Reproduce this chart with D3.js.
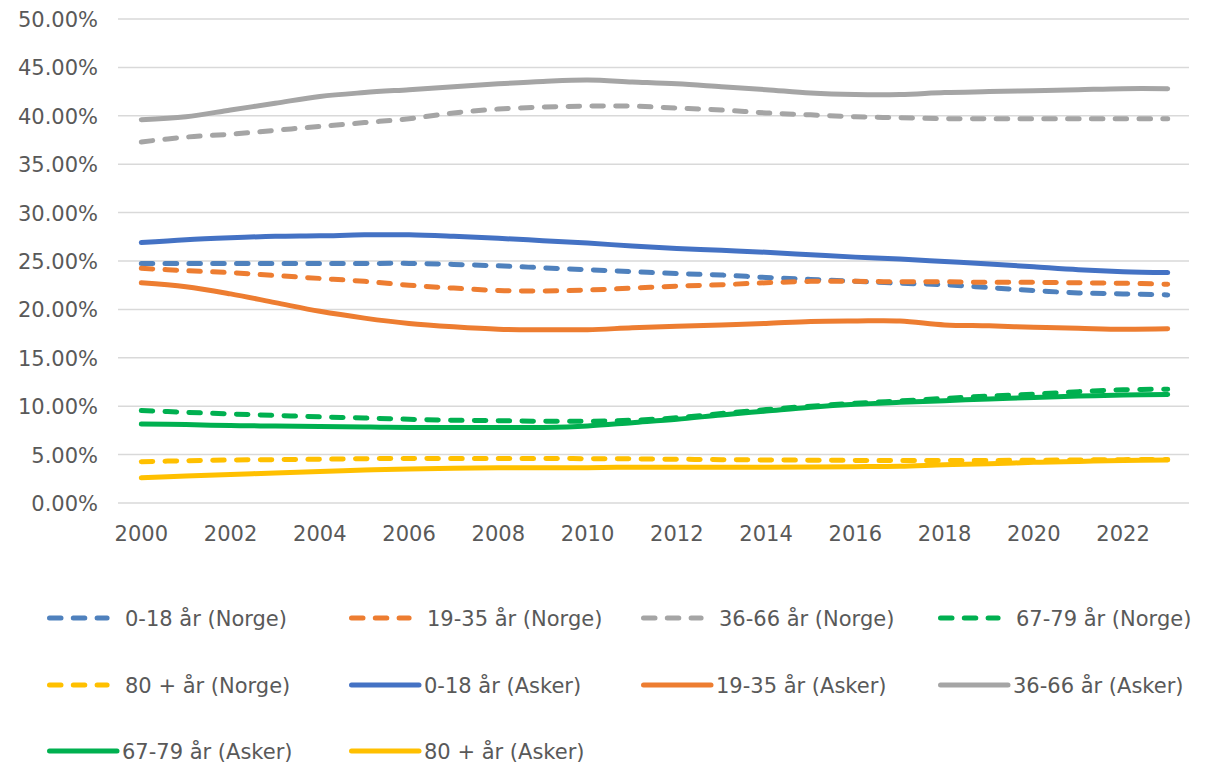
<!DOCTYPE html>
<html><head><meta charset="utf-8">
<script src="https://cdn.jsdelivr.net/npm/d3@7"></script>
<style>html,body{margin:0;padding:0;background:#fff;}svg{display:block;}</style>
</head><body>
<svg id="chart" width="1205" height="765"></svg>
<script>
const years = [2000,2001,2002,2003,2004,2005,2006,2007,2008,2009,2010,2011,2012,2013,2014,2015,2016,2017,2018,2019,2020,2021,2022,2023];
const yTicks = [0,5,10,15,20,25,30,35,40,45,50];

const norge0_18  = [24.75,24.75,24.75,24.75,24.75,24.75,24.75,24.65,24.5,24.3,24.1,23.9,23.7,23.55,23.3,23.1,22.9,22.7,22.55,22.25,21.95,21.7,21.6,21.5];
const norge19_35 = [24.25,24.0,23.8,23.5,23.2,22.9,22.5,22.2,21.95,21.9,22.0,22.2,22.4,22.55,22.75,22.9,22.9,22.85,22.85,22.8,22.8,22.75,22.7,22.6];
const norge36_66 = [37.3,37.8,38.1,38.5,38.9,39.3,39.7,40.3,40.7,40.9,41.0,41.0,40.8,40.6,40.3,40.1,39.9,39.8,39.7,39.7,39.7,39.7,39.7,39.7];
const norge67_79 = [9.55,9.37,9.2,9.05,8.9,8.78,8.65,8.55,8.5,8.45,8.45,8.55,8.8,9.25,9.65,10.0,10.3,10.55,10.8,11.05,11.25,11.5,11.7,11.75];
const norge80    = [4.27,4.37,4.44,4.48,4.52,4.58,4.6,4.6,4.6,4.6,4.58,4.56,4.52,4.48,4.45,4.42,4.4,4.4,4.4,4.4,4.42,4.45,4.48,4.5];

const asker0_18  = [26.9,27.2,27.4,27.55,27.6,27.7,27.7,27.55,27.35,27.1,26.85,26.55,26.3,26.1,25.9,25.65,25.4,25.2,24.95,24.7,24.4,24.1,23.9,23.8];
const asker19_35 = [22.75,22.35,21.6,20.7,19.8,19.1,18.55,18.2,17.95,17.9,17.9,18.1,18.25,18.4,18.55,18.75,18.8,18.8,18.4,18.3,18.15,18.05,17.95,18.0];
const asker36_66 = [39.6,39.9,40.6,41.3,42.0,42.4,42.7,43.0,43.3,43.55,43.7,43.5,43.3,43.0,42.7,42.35,42.2,42.2,42.4,42.5,42.6,42.7,42.8,42.8];
const asker67_79 = [8.15,8.1,8.0,7.95,7.9,7.85,7.8,7.8,7.8,7.8,7.95,8.3,8.65,9.1,9.5,9.9,10.2,10.4,10.57,10.75,10.9,11.05,11.15,11.2];
const asker80    = [2.6,2.8,2.95,3.1,3.25,3.4,3.5,3.58,3.65,3.65,3.65,3.7,3.7,3.7,3.7,3.72,3.75,3.8,3.95,4.05,4.2,4.3,4.4,4.45];

const seriesNames = ["0-18 år (Norge)","19-35 år (Norge)","36-66 år (Norge)","67-79 år (Norge)","80 + år (Norge)",
                     "0-18 år (Asker)","19-35 år (Asker)","36-66 år (Asker)","67-79 år (Asker)","80 + år (Asker)"];
const seriesValues = [norge0_18,norge19_35,norge36_66,norge67_79,norge80,asker0_18,asker19_35,asker36_66,asker67_79,asker80];
const seriesColors = ["#4F81BD","#ED7D31","#A5A5A5","#00B050","#FFC000","#4472C4","#ED7D31","#A5A5A5","#00B050","#FFC000"];
const seriesDashed = [true,true,true,true,true,false,false,false,false,false];

const series = seriesNames.map((n,i)=>({name:n, values:seriesValues[i], color:seriesColors[i], dashed:seriesDashed[i]}));

const svg = d3.select("#chart");
const FONT = "'DejaVu Sans', sans-serif";
const TXT = "#595959";
const DASH = "11.5,12.3";
const LW = 5;

const x = d3.scaleBand().domain(years).range([119, 1190]);
const xc = d => x(d) + x.bandwidth()/2;
const y = d3.scaleLinear().domain([0,50]).range([503, 19]);

// gridlines
svg.append("g").selectAll("line").data(yTicks).join("line")
  .attr("x1",118).attr("x2",1189)
  .attr("y1",d=>y(d)).attr("y2",d=>y(d))
  .attr("stroke","#D9D9D9").attr("stroke-width",1.5);

// y axis labels
const yAxis = d3.axisLeft(y).tickValues(yTicks).tickSize(0).tickPadding(0)
  .tickFormat(d=>d3.format(".2f")(d)+"%");
const gy = svg.append("g").attr("transform","translate(98,0)").call(yAxis);
gy.select(".domain").remove();
gy.selectAll("text").attr("font-family",FONT).attr("font-size",21).attr("fill",TXT).attr("dy","0.36em");

// x axis labels
const xAxis = d3.axisBottom(x).tickValues(years.filter((d,i)=>i%2===0)).tickSize(0).tickPadding(0);
const gx = svg.append("g").attr("transform","translate(0,526)").call(xAxis);
gx.select(".domain").remove();
gx.selectAll("text").attr("font-family",FONT).attr("font-size",21).attr("fill",TXT).attr("dy","0.71em");

// lines
const line = d3.line().x((d,i)=>xc(years[i])).y(d=>y(d)).curve(d3.curveCatmullRom.alpha(0.5));
svg.append("g").selectAll("path").data(series).join("path")
  .attr("d",d=>line(d.values))
  .attr("fill","none")
  .attr("stroke",d=>d.color)
  .attr("stroke-width",LW)
  .attr("stroke-linecap","round")
  .attr("stroke-linejoin","round")
  .attr("stroke-dasharray",d=>d.dashed?DASH:null);

// legend
const legendPos = [
  [47,618],[349,618],[641,618],[938,618],
  [47,685],[349,685],[641,685],[938,685],
  [47,751],[349,751]
];
const lg = svg.append("g").selectAll("g").data(series).join("g")
  .attr("transform",(d,i)=>`translate(${legendPos[i][0]},${legendPos[i][1]})`);
lg.append("line")
  .attr("x1",2.5).attr("x2",d=>d.dashed?60.1:70)
  .attr("y1",0).attr("y2",0)
  .attr("stroke",d=>d.color).attr("stroke-width",LW)
  .attr("stroke-linecap","round")
  .attr("stroke-dasharray",d=>d.dashed?DASH:null);
lg.append("text")
  .attr("x",d=>d.dashed?78:75).attr("y",0).attr("dy","0.36em")
  .attr("font-family",FONT).attr("font-size",21).attr("fill",TXT)
  .text(d=>d.name);
</script>
</body></html>
